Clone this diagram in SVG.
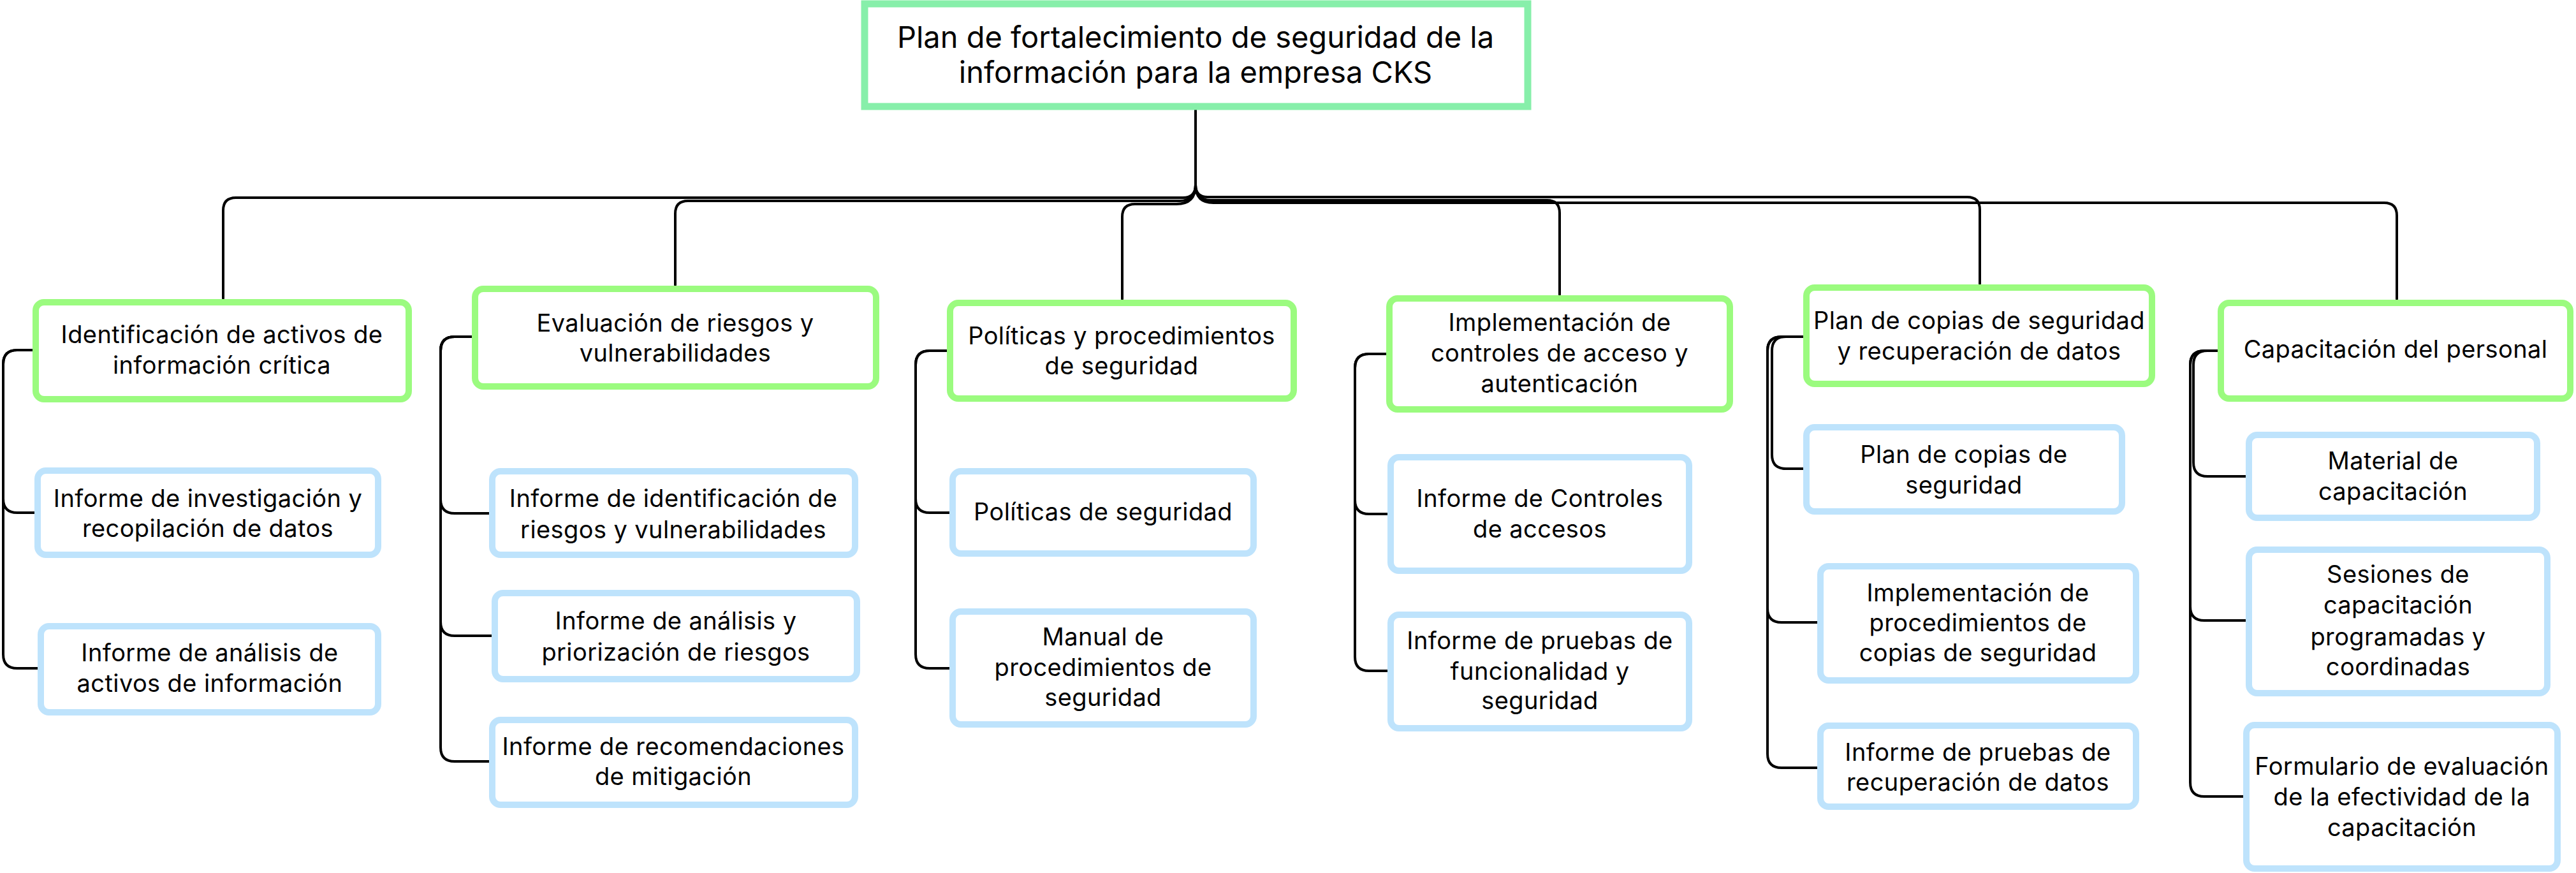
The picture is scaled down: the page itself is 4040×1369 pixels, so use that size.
<svg xmlns="http://www.w3.org/2000/svg" width="4040" height="1369" viewBox="0 0 4040 1369">
<style>
.root{fill:#fff;stroke:#87EFAA;stroke-width:11}
.main{fill:#fff;stroke:#9BFB7F;stroke-width:10}
.sub{fill:#fff;stroke:#BEE3FC;stroke-width:10}
text{font-family:Inter,"Noto Sans",sans-serif;font-size:38px;letter-spacing:0.4px;fill:#000;text-anchor:middle}
.rt{font-size:47px;letter-spacing:0}
.c{fill:none;stroke:#000;stroke-width:4;stroke-linecap:round;stroke-linejoin:round}
</style>
<rect width="4040" height="1369" fill="#fff"/>
<g id="connectors">
<path class="c" d="M1875,172 V290 Q1875,310 1855,310 H370 Q350,310 350,330 V468"/>
<path class="c" d="M1875,172 V290 Q1875,315 1850,315 H1079 Q1059,315 1059,335 V447"/>
<path class="c" d="M1875,172 V290 Q1875,320 1845,320 H1780 Q1760,320 1760,340 V469"/>
<path class="c" d="M1875,172 V290 Q1875,314 1899,314 H2426 Q2446,314 2446,334 V462"/>
<path class="c" d="M1875,172 V290 Q1875,309 1894,309 H3085 Q3105,309 3105,329 V445"/>
<path class="c" d="M1875,172 V290 Q1875,318 1903,318 H3739 Q3759,318 3759,338 V469"/>

<path class="c" d="M51,549 H27 Q5,549 5,571 V782 Q5,804 27,804 H54"/>
<path class="c" d="M51,549 H27 Q5,549 5,571 V1026 Q5,1048 27,1048 H59"/>

<path class="c" d="M740,528 H713 Q691,528 691,550 V783 Q691,805 713,805 H767"/>
<path class="c" d="M740,528 H713 Q691,528 691,550 V975 Q691,997 713,997 H771"/>
<path class="c" d="M740,528 H713 Q691,528 691,550 V1172 Q691,1194 713,1194 H767"/>

<path class="c" d="M1485,550 H1458 Q1436,550 1436,572 V782 Q1436,804 1458,804 H1489"/>
<path class="c" d="M1485,550 H1458 Q1436,550 1436,572 V1026 Q1436,1048 1458,1048 H1489"/>

<path class="c" d="M2174,555 H2147 Q2125,555 2125,577 V784 Q2125,806 2147,806 H2176"/>
<path class="c" d="M2174,555 H2147 Q2125,555 2125,577 V1030 Q2125,1052 2147,1052 H2176"/>

<path class="c" d="M2828,528 H2801 Q2779,528 2779,550 V713 Q2779,735 2801,735 H2828"/>
<path class="c" d="M2828,528 H2794 Q2772,528 2772,550 V954 Q2772,976 2794,976 H2850"/>
<path class="c" d="M2828,528 H2794 Q2772,528 2772,550 V1182 Q2772,1204 2794,1204 H2850"/>

<path class="c" d="M3478,550 H3462 Q3440,550 3440,572 V725 Q3440,747 3462,747 H3522"/>
<path class="c" d="M3478,550 H3457 Q3435,550 3435,572 V951 Q3435,973 3457,973 H3522"/>
<path class="c" d="M3478,550 H3457 Q3435,550 3435,572 V1227 Q3435,1249 3457,1249 H3518"/>
</g>

<g id="root">
<rect class="root" x="1356" y="6" width="1040" height="161"/>
<text class="rt" x="1875" y="75">Plan de fortalecimiento de seguridad de la</text>
<text class="rt" x="1875" y="130">información para la empresa CKS</text>
</g>

<g id="n1">
<rect class="main" x="56" y="474" width="585" height="152" rx="13"/>
<text x="348" y="538">Identificación de activos de</text>
<text x="348" y="586">información crítica</text>
</g>
<g id="n1a">
<rect class="sub" x="59" y="738" width="534" height="132" rx="13"/>
<text x="326" y="795">Informe de investigación y</text>
<text x="326" y="842">recopilación de datos</text>
</g>
<g id="n1b">
<rect class="sub" x="64" y="982" width="529" height="135" rx="13"/>
<text x="329" y="1037">Informe de análisis de</text>
<text x="329" y="1085">activos de información</text>
</g>

<g id="n2">
<rect class="main" x="745" y="453" width="629" height="153" rx="13"/>
<text x="1059" y="520">Evaluación de riesgos y</text>
<text x="1059" y="567">vulnerabilidades</text>
</g>
<g id="n2a">
<rect class="sub" x="772" y="739" width="569" height="131" rx="13"/>
<text x="1056" y="795">Informe de identificación de</text>
<text x="1056" y="844">riesgos y vulnerabilidades</text>
</g>
<g id="n2b">
<rect class="sub" x="776" y="930" width="568" height="135" rx="13"/>
<text x="1060" y="987">Informe de análisis y</text>
<text x="1060" y="1036">priorización de riesgos</text>
</g>
<g id="n2c">
<rect class="sub" x="772" y="1129" width="569" height="133" rx="13"/>
<text x="1056" y="1184">Informe de recomendaciones</text>
<text x="1056" y="1231">de mitigación</text>
</g>

<g id="n3">
<rect class="main" x="1490" y="475" width="539" height="150" rx="13"/>
<text x="1759" y="540">Políticas y procedimientos</text>
<text x="1759" y="587">de seguridad</text>
</g>
<g id="n3a">
<rect class="sub" x="1494" y="739" width="472" height="129" rx="13"/>
<text x="1730" y="816">Políticas de seguridad</text>
</g>
<g id="n3b">
<rect class="sub" x="1494" y="959" width="472" height="177" rx="13"/>
<text x="1730" y="1012">Manual de</text>
<text x="1730" y="1060">procedimientos de</text>
<text x="1730" y="1107">seguridad</text>
</g>

<g id="n4">
<rect class="main" x="2179" y="468" width="534" height="174" rx="13"/>
<text x="2446" y="519">Implementación de</text>
<text x="2446" y="567">controles de acceso y</text>
<text x="2446" y="615">autenticación</text>
</g>
<g id="n4a">
<rect class="sub" x="2181" y="717" width="468" height="178" rx="13"/>
<text x="2415" y="795">Informe de Controles</text>
<text x="2415" y="843">de accesos</text>
</g>
<g id="n4b">
<rect class="sub" x="2181" y="964" width="468" height="178" rx="13"/>
<text x="2415" y="1018">Informe de pruebas de</text>
<text x="2415" y="1066">funcionalidad y</text>
<text x="2415" y="1112">seguridad</text>
</g>

<g id="n5">
<rect class="main" x="2833" y="451" width="542" height="151" rx="13"/>
<text x="3104" y="516">Plan de copias de seguridad</text>
<text x="3104" y="564">y recuperación de datos</text>
</g>
<g id="n5a">
<rect class="sub" x="2833" y="670" width="495" height="132" rx="13"/>
<text x="3080" y="726">Plan de copias de</text>
<text x="3080" y="774">seguridad</text>
</g>
<g id="n5b">
<rect class="sub" x="2855" y="888" width="495" height="179" rx="13"/>
<text x="3102" y="943">Implementación de</text>
<text x="3102" y="990">procedimientos de</text>
<text x="3102" y="1037">copias de seguridad</text>
</g>
<g id="n5c">
<rect class="sub" x="2855" y="1138" width="495" height="127" rx="13"/>
<text x="3102" y="1193">Informe de pruebas de</text>
<text x="3102" y="1240">recuperación de datos</text>
</g>

<g id="n6">
<rect class="main" x="3483" y="475" width="548" height="150" rx="13"/>
<text x="3757" y="561">Capacitación del personal</text>
</g>
<g id="n6a">
<rect class="sub" x="3527" y="682" width="452" height="130" rx="13"/>
<text x="3753" y="736">Material de</text>
<text x="3753" y="784">capacitación</text>
</g>
<g id="n6b">
<rect class="sub" x="3527" y="862" width="468" height="225" rx="13"/>
<text x="3761" y="914">Sesiones de</text>
<text x="3761" y="962">capacitación</text>
<text x="3761" y="1012">programadas y</text>
<text x="3761" y="1059">coordinadas</text>
</g>
<g id="n6c">
<rect class="sub" x="3523" y="1137" width="488" height="225" rx="13"/>
<text x="3767" y="1215">Formulario de evaluación</text>
<text x="3767" y="1263">de la efectividad de la</text>
<text x="3767" y="1311">capacitación</text>
</g>
</svg>
